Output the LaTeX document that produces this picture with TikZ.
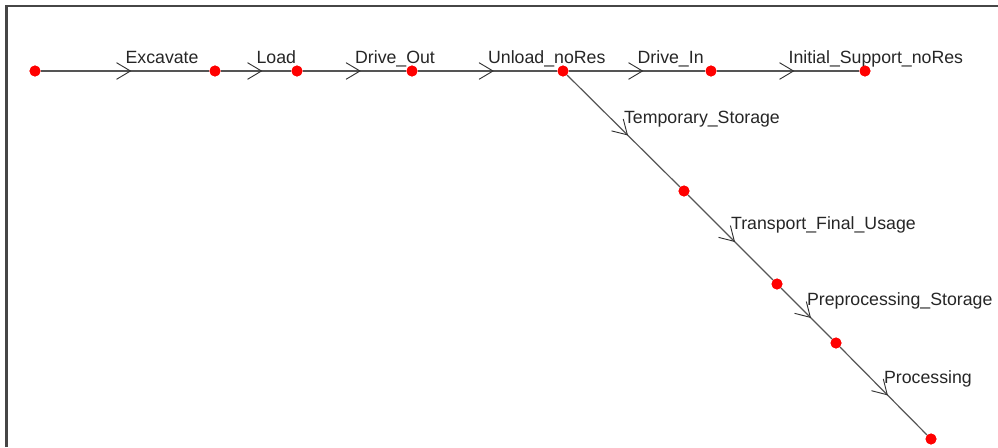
\documentclass[tikz,border=0pt]{standalone}
\usepackage{fontspec}
\setmainfont{Liberation Sans}
\usetikzlibrary{arrows.meta,decorations.markings}

\definecolor{edgegray}{RGB}{85,85,85}
\definecolor{framegray}{RGB}{70,70,70}

\tikzset{
  state/.style={circle, fill=red, inner sep=0pt, minimum size=8.2pt},
  trans/.style={edgegray, line width=0.9pt,
    postaction={decorate, decoration={markings,
      mark=at position 0.5 with {\pgftransformxshift{4.8pt}%
        \arrow[black!80, line width=0.7pt]{Straight Barb[length=10.5pt, width=12.5pt]}}}}},
  lbl/.style={anchor=base west, inner sep=0pt, yshift=5.8pt, text=black!85,
    font=\fontsize{13.3}{15}\selectfont},
}

\begin{document}
\begin{tikzpicture}[x=0.75pt, y=-0.75pt]
\useasboundingbox (0,0) rectangle (998,447);
% window frame
\draw[framegray, line width=1.6pt] (6.5,447) -- (6.5,6) -- (998,6);

% states
\node[state] (s0) at (35,71) {};
\node[state] (s1) at (215,71) {};
\node[state] (s2) at (297,71) {};
\node[state] (s3) at (412,71) {};
\node[state] (s4) at (563,71) {};
\node[state] (s5) at (711,71) {};
\node[state] (s6) at (865,71) {};
\node[state] (s7) at (684,191) {};
\node[state] (s8) at (777,284) {};
\node[state] (s9) at (836,343) {};
\node[state] (s10) at (931,439) {};

% main line
\draw[trans] (s0) -- node[lbl] (tExcavate) {Excavate} (s1);
\draw[trans] (s1) -- node[lbl] (tLoad) {Load} (s2);
\draw[trans] (s2) -- node[lbl] (tDriveOut) {Drive\_Out} (s3);
\draw[trans] (s3) -- node[lbl] (tUnload) {Unload\_noRes} (s4);
\draw[trans] (s4) -- node[lbl] (tDriveIn) {Drive\_In} (s5);
\draw[trans] (s5) -- node[lbl] (tSupport) {Initial\_Support\_noRes} (s6);

% storage branch
\draw[trans] (s4) -- node[lbl] (tTempStore) {Temporary\_Storage} (s7);
\draw[trans] (s7) -- node[lbl] (tTransport) {Transport\_Final\_Usage} (s8);
\draw[trans] (s8) -- node[lbl] (tPreStore) {Preprocessing\_Storage} (s9);
\draw[trans] (s9) -- node[lbl] (tProcess) {Processing} (s10);

% redraw states on top of the edges
\foreach \s in {s0,s1,s2,s3,s4,s5,s6,s7,s8,s9,s10}
  \fill[red] (\s) circle (4.1pt);
\end{tikzpicture}
\end{document}
